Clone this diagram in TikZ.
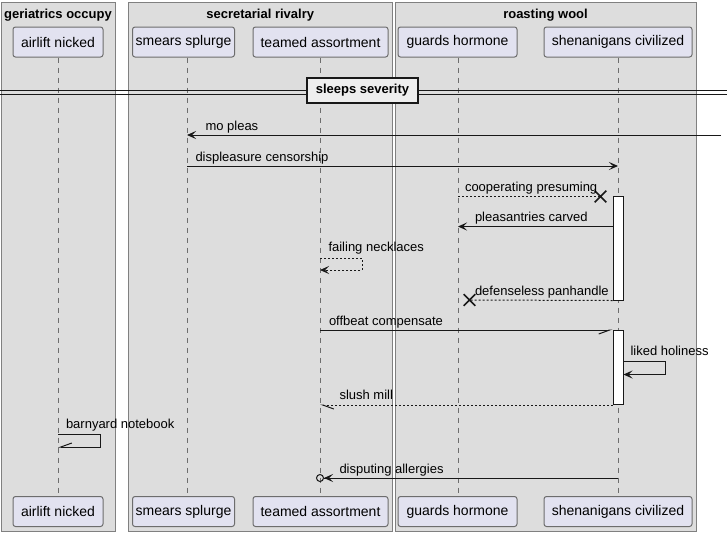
\documentclass[tikz,border=0pt]{standalone}
\usepackage{xcolor}
\usepackage{fontspec}
\setmainfont{Liberation Sans}
\usepackage{tikz}
\usetikzlibrary{arrows.meta, positioning, shapes.misc}
\definecolor{UMLgrey}{RGB}{221,221,221}
\definecolor{UMLlilac}{RGB}{226,226,240}
\definecolor{UMLedge}{RGB}{128,128,128}
\definecolor{UMLink}{RGB}{24,24,24}
\definecolor{UMLsep}{RGB}{238,238,238}

\begin{document}
\begin{tikzpicture}[x=1pt, y=-1pt, line width=1pt,
    grp/.style={draw=UMLedge, fill=UMLgrey},
    grptitle/.style={inner sep=0, font=\fontsize{13}{15}\selectfont\bfseries},
    part/.style={draw=UMLedge!85!black, fill=UMLlilac, rounded corners=2.5pt,
      minimum height=30pt, inner sep=0, font=\fontsize{14}{16}\selectfont},
    life/.style={UMLedge!85!black, dash pattern=on 5pt off 5pt},
    act/.style={draw=UMLink, fill=white, minimum width=10pt, inner sep=0},
    lbl/.style={anchor=base west, inner sep=0, font=\fontsize{13}{15}\selectfont},
    msg/.style={UMLink, -{Stealth[length=9pt, width=8pt, inset=4pt]}},
    ret/.style={msg, dash pattern=on 2pt off 2pt},
    half/.style={UMLink, -{Straight Barb[harpoon, length=11pt, width=8pt]}},
    halfswap/.style={UMLink, -{Straight Barb[harpoon, swap, length=11pt, width=8pt]}},
    lost/.style={draw=UMLink, cross out, line width=1.6pt, minimum size=10pt, inner sep=0},
    sepbox/.style={draw=UMLink, fill=UMLsep, line width=1.6pt, minimum width=111pt,
      minimum height=25pt, inner sep=0, font=\fontsize{13}{15}\selectfont\bfseries}]

  \useasboundingbox (0,0) rectangle (727,536);

  \foreach \gx/\gxx/\ttl in {1/115/geriatrics occupy, 128/392.5/secretarial rivalry, 395/696/roasting wool}{
    \draw[grp] (\gx,2) rectangle (\gxx,531);
    \node[grptitle] at ({(\gx+\gxx)/2},15) {\ttl};
  }

  \foreach \nm/\lx/\cx/\w/\txt in {air/58/58/90/airlift nicked, sme/187/183.5/102/smears splurge,
      tea/320/320.5/135/teamed assortment, gua/458/457.5/119/guards hormone,
      she/618/618/148/shenanigans civilized}{
    \coordinate (\nm) at (\lx,0);
    \node[part, minimum width=\w pt] (\nm Top) at (\cx,42) {\txt};
    \node[part, minimum width=\w pt] (\nm Bot) at (\cx,511.5) {\txt};
    \draw[life] (\nm Top.south -| \nm) -- (\nm Bot.north -| \nm);
  }

  \draw[UMLink] (0,90.5) -- (727,90.5) (0,94) -- (727,94);
  \node[sepbox] (sev) at (362.5,90.5) {sleeps severity};

  \coordinate (rim) at (721,135);
  \draw[msg] (rim) -- (sme |- rim);
  \node[lbl] at (205,130) {mo pleas};

  \draw[msg] (sme |- 0,166) -- (she |- 0,166);
  \node[lbl] at (195,161.5) {displeasure censorship};

  \node[act, minimum height=104pt] (act1) at (618,248) {};
  \node[lost] (x1) at (600.5,196.5) {};
  \draw[UMLink, dash pattern=on 2pt off 2pt] (gua |- x1) -- (x1.center);
  \node[lbl] at (464.5,191.5) {cooperating presuming};

  \draw[msg] (act1.west |- 0,226.5) -- (gua |- 0,226.5);
  \node[lbl] at (474.5,221.5) {pleasantries carved};

  \draw[ret] (tea |- 0,258) -- (362,258) -- (362,270) -- (tea |- 0,270);
  \node[lbl] at (328,251.5) {failing necklaces};

  \node[lost] (x2) at (469.5,300) {};
  \draw[UMLink, dash pattern=on 2pt off 2pt] (act1.south west) -- (x2.center);
  \node[lbl] at (474.5,295.5) {defenseless panhandle};

  \node[act, minimum height=74pt] (act2) at (618,367.5) {};
  \draw[halfswap] (tea |- act2.north) -- (act2.north west);
  \node[lbl] at (328.5,325.5) {offbeat compensate};

  \draw[msg] (act2.east |- 0,361.5) -- (665.5,361.5) -- (665.5,374.5) -- (act2.east |- 0,374.5);
  \node[lbl] at (630,355.5) {liked holiness};

  \draw[half, dash pattern=on 2pt off 2pt] (act2.south west) -- (tea |- act2.south);
  \node[lbl] at (339,399.5) {slush mill};

  \draw[halfswap] (air |- 0,434) -- (100,434) -- (100,447) -- (air |- 0,447);
  \node[lbl] at (65.5,428) {barnyard notebook};

  \draw[UMLink, shorten >=-4pt,
      -{Stealth[length=9pt, width=8pt, inset=4pt] Circle[open, length=8pt, width=8pt]}]
    (she |- 0,478) -- (tea |- 0,478);
  \node[lbl] at (339,473) {disputing allergies};
\end{tikzpicture}
\end{document}
